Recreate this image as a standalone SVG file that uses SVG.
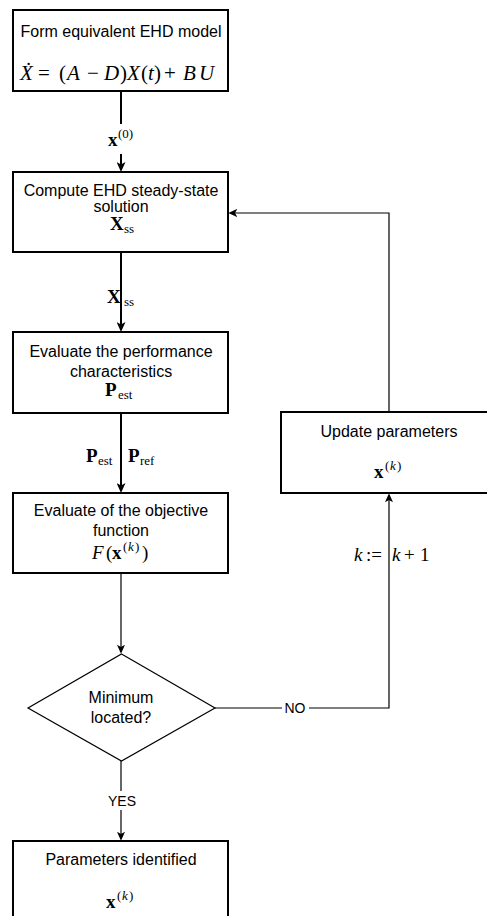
<svg xmlns="http://www.w3.org/2000/svg" width="487" height="916" viewBox="0 0 487 916">
<style>
.box{fill:#fff;stroke:#000;stroke-width:2}
.dia{fill:#fff;stroke:#000;stroke-width:1.2}
.t{font-family:"Liberation Sans",Arial,sans-serif;font-size:16px;fill:#000;text-anchor:middle}
.lbl{font-family:"Liberation Sans",Arial,sans-serif;font-size:14px;fill:#000;text-anchor:middle}
.m{font-family:"Liberation Serif","DejaVu Serif",serif;font-size:19px;fill:#000}
.big{font-size:21px}
.i{font-style:italic}
.b{font-weight:bold}
.s{font-size:13px}
.thick{stroke:#000;stroke-width:2;fill:none;marker-end:url(#ah)}
.thin{stroke:#000;stroke-width:1.2;fill:none;marker-end:url(#at)}
.bg{fill:#fff;stroke:none}
</style>
<defs>
<marker id="ah" markerUnits="userSpaceOnUse" viewBox="0 0 10 9" refX="7" refY="4.5" markerWidth="10" markerHeight="9" orient="auto">
<path d="M0,0 L10,4.5 L0,9 L2.5,4.5 Z" fill="#000"/>
</marker>
<marker id="at" markerUnits="userSpaceOnUse" viewBox="0 0 10 9" refX="7" refY="4.5" markerWidth="9" markerHeight="8" orient="auto">
<path d="M0,0 L10,4.5 L0,9 L2.5,4.5 Z" fill="#000"/>
</marker>
</defs>

<g id="connectors">
<line class="thick" x1="121" y1="92" x2="121" y2="169"/>
<line class="thick" x1="121" y1="253" x2="121" y2="329"/>
<line class="thick" x1="121" y1="414" x2="121" y2="490"/>
<line class="thin" x1="121" y1="573" x2="121" y2="651"/>
<line class="thin" x1="121" y1="761" x2="121" y2="838"/>
<path class="thin" d="M215,708 H389 V496"/>
<path class="thin" d="M389,412 V213 H231"/>
<g id="label-x0">
<rect class="bg" x="106" y="124" width="31" height="30"/>
<text class="m" y="146"><tspan class="b" x="108">x</tspan><tspan class="s" x="118" y="138">(0)</tspan></text>
</g>
<g id="label-xss">
<text class="m" y="303"><tspan class="b" x="107">X</tspan><tspan class="s" x="124" y="306">ss</tspan></text>
</g>
<g id="label-p">
<text class="m" y="462"><tspan class="b" x="86">P</tspan><tspan class="s" x="98" y="465">est</tspan><tspan class="b" x="128" y="462">P</tspan><tspan class="s" x="140" y="465">ref</tspan></text>
</g>
<g id="label-yes">
<rect class="bg" x="108" y="791" width="28" height="19"/>
<text class="lbl" x="122" y="806">YES</text>
</g>
<g id="label-no">
<rect class="bg" x="282" y="699" width="27" height="18"/>
<text class="lbl" x="295" y="713">NO</text>
</g>
<g id="label-k">
<text class="m" y="561"><tspan class="i" x="354">k</tspan><tspan x="366">:=</tspan><tspan class="i" x="392">k</tspan><tspan x="404">+</tspan><tspan x="420">1</tspan></text>
</g>
</g>

<g id="n1">
<rect class="box" x="13" y="10" width="215" height="81"/>
<text class="t" x="121" y="37">Form equivalent EHD model</text>
<text class="m big" y="80"><tspan class="i" x="20">Ẋ</tspan><tspan x="38">=</tspan><tspan x="59">(</tspan><tspan class="i" x="67">A</tspan><tspan x="87">−</tspan><tspan class="i" x="104">D</tspan><tspan x="120">)</tspan><tspan class="i" x="127">X</tspan><tspan x="141">(</tspan><tspan class="i" x="148">t</tspan><tspan x="154">)</tspan><tspan x="164">+</tspan><tspan class="i" x="183">B</tspan><tspan class="i" x="199">U</tspan></text>
</g>

<g id="n2">
<rect class="box" x="13" y="172" width="215" height="80"/>
<text class="t" x="121" y="196">Compute EHD steady-state</text>
<text class="t" x="121" y="212">solution</text>
<text class="m" y="230"><tspan class="b" x="110">X</tspan><tspan class="s" x="124" y="233">ss</tspan></text>
</g>

<g id="n3">
<rect class="box" x="13" y="332" width="215" height="81"/>
<text class="t" x="121" y="357">Evaluate the performance</text>
<text class="t" x="121" y="377">characteristics</text>
<text class="m" y="396"><tspan class="b" x="105">P</tspan><tspan class="s" x="118" y="399">est</tspan></text>
</g>

<g id="n4">
<rect class="box" x="13" y="493" width="215" height="80"/>
<text class="t" x="121" y="516">Evaluate of the objective</text>
<text class="t" x="121" y="536">function</text>
<text class="m" y="559"><tspan class="i" x="92">F</tspan><tspan x="106">(</tspan><tspan class="b" x="112">x</tspan><tspan class="s" x="123" y="551">(</tspan><tspan class="s i" x="128" y="551">k</tspan><tspan class="s" x="135" y="551">)</tspan><tspan x="142" y="559">)</tspan></text>
</g>

<g id="n5">
<polygon class="dia" points="121.5,654 215,708 121.5,761 28,708"/>
<text class="t" x="121" y="703">Minimum</text>
<text class="t" x="121" y="723">located?</text>
</g>

<g id="n6">
<rect class="box" x="13" y="841" width="215" height="80"/>
<text class="t" x="121" y="865">Parameters identified</text>
<text class="m" y="908"><tspan class="b" x="106">x</tspan><tspan class="s" x="117" y="900">(</tspan><tspan class="s i" x="122" y="900">k</tspan><tspan class="s" x="129" y="900">)</tspan></text>
</g>

<g id="n7">
<rect class="box" x="281" y="412" width="216" height="81"/>
<text class="t" x="389" y="437">Update parameters</text>
<text class="m" y="478"><tspan class="b" x="374">x</tspan><tspan class="s" x="385" y="470">(</tspan><tspan class="s i" x="390" y="470">k</tspan><tspan class="s" x="397" y="470">)</tspan></text>
</g>
</svg>
